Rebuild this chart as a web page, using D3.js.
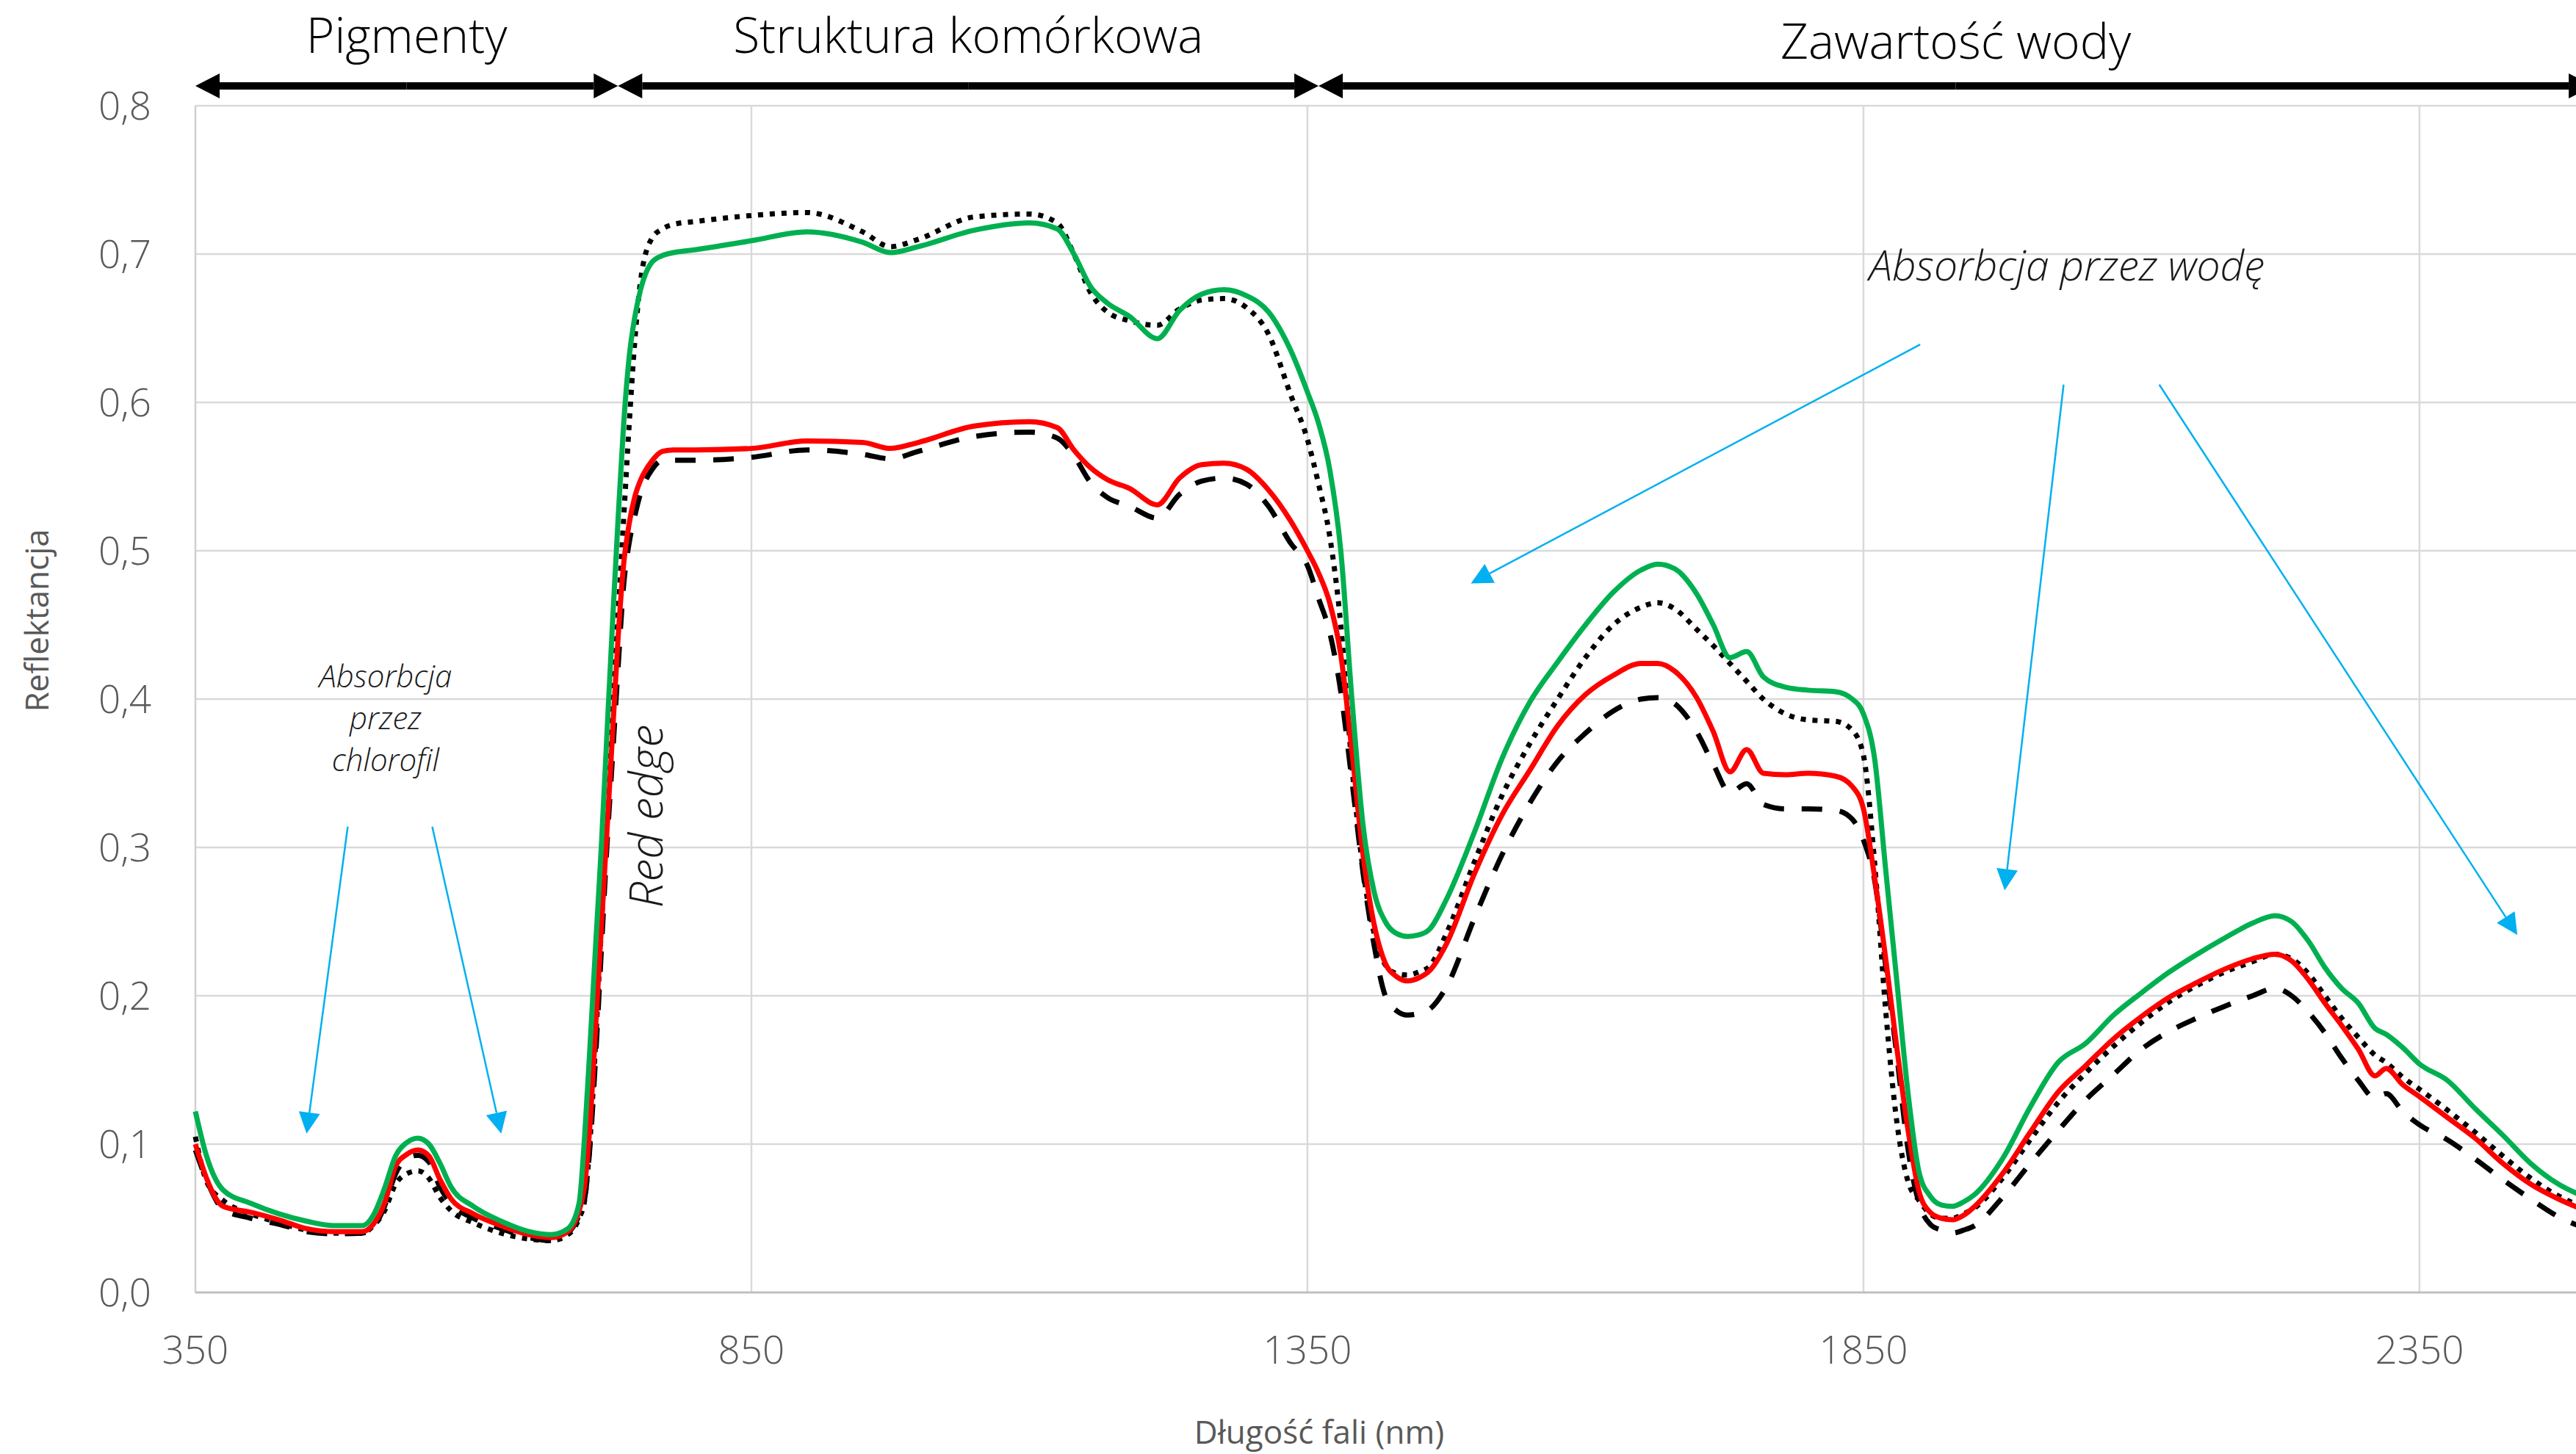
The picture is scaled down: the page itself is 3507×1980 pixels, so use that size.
<!DOCTYPE html>
<html>
<head>
<meta charset="utf-8">
<script src="https://cdn.jsdelivr.net/npm/d3@7"></script>
<style>
  body { margin: 0; background: #fff; }
  svg { display: block; }
  text { font-family: "Open Sans", "DejaVu Sans", sans-serif; }
</style>
</head>
<body>
<div id="chart"></div>
<script>
// wavelength samples (nm)
const wavelengths = [350,360,375,400,425,450,475,500,510,520,
  530,540,550,560,570,580,600,625,650,670,
  685,695,700,705,710,715,720,725,730,735,
  740,745,750,760,770,780,800,850,900,950,
  975,1000,1050,1100,1125,1140,1155,1170,1190,1215,
  1235,1255,1275,1295,1315,1335,1350,1360,1370,1380,
  1390,1400,1410,1420,1430,1440,1450,1460,1475,1500,
  1525,1550,1575,1600,1625,1650,1665,1680,1700,1715,
  1730,1745,1760,1780,1800,1825,1840,1850,1860,1870,
  1880,1890,1900,1910,1920,1930,1940,1950,1975,2000,
  2025,2050,2075,2100,2125,2150,2175,2200,2220,2235,
  2250,2265,2280,2295,2310,2320,2335,2350,2375,2400,
  2425,2450,2475,2500];

// reflectance, green solid
const greenSeries = [0.122,0.092,0.069,0.060,0.053,0.048,0.045,0.045,0.052,0.070,
  0.092,0.101,0.104,0.100,0.087,0.071,0.058,0.048,0.041,0.039,
  0.043,0.060,0.105,0.168,0.235,0.300,0.375,0.450,0.520,0.584,
  0.630,0.657,0.675,0.694,0.699,0.701,0.703,0.709,0.715,0.708,
  0.701,0.705,0.716,0.721,0.717,0.700,0.678,0.667,0.658,0.643,
  0.662,0.673,0.676,0.672,0.661,0.635,0.607,0.586,0.555,0.500,
  0.400,0.315,0.270,0.250,0.242,0.240,0.241,0.245,0.265,0.310,
  0.360,0.398,0.425,0.450,0.472,0.487,0.491,0.488,0.471,0.450,
  0.428,0.432,0.415,0.408,0.406,0.405,0.400,0.390,0.360,0.285,
  0.210,0.135,0.081,0.065,0.059,0.058,0.061,0.066,0.090,0.125,
  0.155,0.168,0.187,0.202,0.216,0.228,0.239,0.249,0.254,0.250,
  0.237,0.219,0.205,0.195,0.178,0.174,0.165,0.154,0.143,0.124,
  0.106,0.087,0.073,0.064];

// reflectance, black dotted
const dottedSeries = [0.105,0.075,0.062,0.053,0.047,0.042,0.040,0.040,0.045,0.055,
  0.073,0.080,0.082,0.077,0.064,0.055,0.047,0.040,0.036,0.035,
  0.039,0.050,0.062,0.104,0.170,0.245,0.320,0.390,0.455,0.520,
  0.584,0.640,0.680,0.710,0.717,0.720,0.722,0.726,0.728,0.715,
  0.705,0.710,0.725,0.727,0.721,0.700,0.674,0.661,0.655,0.652,
  0.663,0.669,0.670,0.664,0.646,0.605,0.575,0.545,0.510,0.450,
  0.355,0.285,0.242,0.221,0.215,0.214,0.216,0.220,0.242,0.290,
  0.335,0.370,0.400,0.428,0.450,0.462,0.465,0.461,0.447,0.436,
  0.424,0.412,0.400,0.390,0.386,0.385,0.379,0.362,0.290,0.190,
  0.115,0.075,0.062,0.053,0.050,0.050,0.053,0.057,0.077,0.103,
  0.128,0.148,0.166,0.182,0.196,0.207,0.216,0.223,0.228,0.225,
  0.215,0.200,0.185,0.172,0.160,0.155,0.145,0.137,0.123,0.108,
  0.092,0.077,0.065,0.057];

// reflectance, red solid
const redSeries = [0.100,0.077,0.058,0.054,0.049,0.043,0.041,0.041,0.046,0.060,
  0.085,0.093,0.096,0.092,0.076,0.063,0.053,0.045,0.039,0.037,
  0.041,0.055,0.072,0.115,0.180,0.245,0.310,0.375,0.440,0.490,
  0.518,0.536,0.547,0.560,0.567,0.568,0.568,0.569,0.574,0.573,
  0.569,0.573,0.584,0.587,0.583,0.568,0.556,0.548,0.542,0.531,
  0.549,0.558,0.559,0.555,0.541,0.520,0.500,0.485,0.465,0.430,
  0.365,0.295,0.248,0.222,0.213,0.210,0.212,0.217,0.235,0.282,
  0.322,0.352,0.382,0.403,0.416,0.424,0.424,0.419,0.401,0.378,
  0.351,0.366,0.350,0.349,0.350,0.348,0.341,0.326,0.280,0.225,
  0.165,0.110,0.068,0.054,0.050,0.049,0.052,0.058,0.080,0.108,
  0.135,0.153,0.171,0.186,0.199,0.209,0.218,0.225,0.228,0.2235,
  0.211,0.195,0.180,0.164,0.146,0.151,0.140,0.132,0.118,0.104,
  0.087,0.073,0.063,0.055];

// reflectance, black dashed
const dashedSeries = [0.096,0.076,0.056,0.050,0.046,0.041,0.0395,0.040,0.044,0.058,
  0.080,0.090,0.0925,0.088,0.071,0.060,0.050,0.043,0.037,0.035,
  0.040,0.052,0.063,0.100,0.160,0.230,0.300,0.360,0.420,0.476,
  0.505,0.523,0.538,0.554,0.561,0.561,0.561,0.563,0.568,0.565,
  0.562,0.567,0.577,0.580,0.576,0.564,0.546,0.536,0.530,0.522,
  0.538,0.547,0.549,0.545,0.530,0.505,0.490,0.468,0.445,0.405,
  0.345,0.283,0.234,0.200,0.190,0.187,0.188,0.191,0.206,0.252,
  0.295,0.330,0.358,0.377,0.392,0.400,0.401,0.397,0.378,0.356,
  0.337,0.343,0.329,0.326,0.326,0.325,0.319,0.305,0.278,0.220,
  0.160,0.097,0.060,0.046,0.042,0.040,0.042,0.045,0.064,0.087,
  0.109,0.130,0.147,0.164,0.176,0.185,0.193,0.200,0.205,0.200,
  0.189,0.175,0.158,0.143,0.131,0.134,0.122,0.113,0.103,0.090,
  0.076,0.063,0.051,0.043];

const xTicks = [350, 850, 1350, 1850, 2350];
const yTicks = [0, 0.1, 0.2, 0.3, 0.4, 0.5, 0.6, 0.7, 0.8];

// spectral regions shown above the plot
const sectionNames = ["Pigmenty", "Struktura komórkowa", "Zawartość wody"];
const sectionBounds = [350, 730, 1360, 2506];

// annotation arrows [fromX, fromY, toX, toY] in data units
const chlorophyllArrows = [[487, 0.314, 450, 0.107], [563, 0.314, 625, 0.107]];
const waterArrows = [[1901, 0.639, 1497, 0.478], [2030, 0.612, 1977, 0.271], [2116, 0.612, 2438, 0.241]];

// chart size
const width = 3507;
const height = 1980;

const svg = d3.select("#chart")
  .append("svg")
  .attr("width", width)
  .attr("height", height);

const x = d3.scaleLinear().domain([350, 2500]).range([266, 3521]);
const y = d3.scaleLinear().domain([0, 0.8]).range([1760, 144]);

const fmt = d3.formatLocale({decimal: ",", thousands: " ", grouping: [3], currency: ["", ""]}).format(".1f");

// gridlines
svg.append("g")
  .selectAll("line")
  .data(yTicks.filter(d => d > 0))
  .join("line")
  .attr("x1", x(350)).attr("x2", width)
  .attr("y1", d => y(d)).attr("y2", d => y(d))
  .attr("stroke", "#d9d9d9")
  .attr("stroke-width", 2.5);

svg.append("g")
  .selectAll("line")
  .data(xTicks.filter(d => d > 350))
  .join("line")
  .attr("x1", d => x(d)).attr("x2", d => x(d))
  .attr("y1", y(0)).attr("y2", y(0.8))
  .attr("stroke", "#d9d9d9")
  .attr("stroke-width", 2.5);

// axis lines
svg.append("line")
  .attr("x1", x(350)).attr("x2", x(350))
  .attr("y1", y(0)).attr("y2", y(0.8))
  .attr("stroke", "#d0d0d0")
  .attr("stroke-width", 2.5);

svg.append("line")
  .attr("x1", x(350)).attr("x2", width)
  .attr("y1", y(0)).attr("y2", y(0))
  .attr("stroke", "#bfbfbf")
  .attr("stroke-width", 3);

// tick labels
svg.append("g")
  .selectAll("text")
  .data(yTicks)
  .join("text")
  .attr("x", 206)
  .attr("y", d => y(d) + 19)
  .attr("text-anchor", "end")
  .attr("font-size", 53)
  .attr("font-weight", 300)
  .attr("fill", "#595959")
  .text(d => fmt(d));

svg.append("g")
  .selectAll("text")
  .data(xTicks)
  .join("text")
  .attr("x", d => x(d))
  .attr("y", 1857)
  .attr("text-anchor", "middle")
  .attr("font-size", 53)
  .attr("font-weight", 300)
  .attr("fill", "#595959")
  .text(d => d);

// axis titles
svg.append("text")
  .attr("transform", "translate(66," + y(0.453) + ") rotate(-90)")
  .attr("text-anchor", "middle")
  .attr("font-size", 44)
  .attr("fill", "#595959")
  .text("Reflektancja");

svg.append("text")
  .attr("x", 1796)
  .attr("y", 1966)
  .attr("text-anchor", "middle")
  .attr("font-size", 44)
  .attr("fill", "#595959")
  .text("Długość fali (nm)");

// series lines
const series = [
  {values: dottedSeries, color: "#000", dash: "7 9", width: 7},
  {values: dashedSeries, color: "#000", dash: "28 24", width: 7},
  {values: redSeries, color: "#ff0000", dash: null, width: 7},
  {values: greenSeries, color: "#00b050", dash: null, width: 7}
];

const line = d3.line()
  .x(d => x(d[0]))
  .y(d => y(d[1]))
  .curve(d3.curveMonotoneX);

svg.append("g")
  .selectAll("path")
  .data(series)
  .join("path")
  .attr("d", s => line(wavelengths.map((w, i) => [w, s.values[i]])))
  .attr("fill", "none")
  .attr("stroke", s => s.color)
  .attr("stroke-width", s => s.width)
  .attr("stroke-dasharray", s => s.dash)
  .attr("stroke-linejoin", "round");

// arrow helper: shaft plus triangular head at (x2,y2)
function arrow(g, x1, y1, x2, y2, color, w, headLen, headHalf) {
  const a = Math.atan2(y2 - y1, x2 - x1);
  const bx = x2 - headLen * Math.cos(a), by = y2 - headLen * Math.sin(a);
  g.append("line")
    .attr("x1", x1).attr("y1", y1).attr("x2", bx).attr("y2", by)
    .attr("stroke", color).attr("stroke-width", w);
  const px = -Math.sin(a) * headHalf, py = Math.cos(a) * headHalf;
  g.append("path")
    .attr("d", "M" + x2 + "," + y2 + "L" + (bx + px) + "," + (by + py) + "L" + (bx - px) + "," + (by - py) + "Z")
    .attr("fill", color);
}

// section double arrows
const arrowY = y(0.8) - 27;
const sectionG = svg.append("g");
const labelY = [72, 72, 80];
sectionNames.forEach((name, i) => {
  const a = x(sectionBounds[i]), b = x(sectionBounds[i + 1]);
  const mid = (a + b) / 2;
  arrow(sectionG, mid, arrowY, a, arrowY, "#000", 10, 33, 17);
  arrow(sectionG, mid, arrowY, b, arrowY, "#000", 10, 33, 17);
  sectionG.append("text")
    .attr("x", mid)
    .attr("y", labelY[i])
    .attr("text-anchor", "middle")
    .attr("font-size", 66)
    .attr("font-weight", 300)
    .attr("fill", "#000")
    .text(name);
});

// blue annotation arrows
const annG = svg.append("g");
chlorophyllArrows.concat(waterArrows).forEach(d => {
  arrow(annG, x(d[0]), y(d[1]), x(d[2]), y(d[3]), "#00b0f0", 2.5, 29, 14.5);
});

// annotation texts
const chloroLines = ["Absorbcja", "przez", "chlorofil"];
annG.append("g")
  .selectAll("text")
  .data(chloroLines)
  .join("text")
  .attr("x", x(521))
  .attr("y", (d, i) => y(0.408) + i * 57)
  .attr("text-anchor", "middle")
  .attr("font-size", 42)
  .attr("font-style", "italic")
  .attr("font-weight", 300)
  .attr("fill", "#1a1a1a")
  .text(d => d);

annG.append("text")
  .attr("transform", "translate(" + x(770) + "," + y(0.321) + ") rotate(-90)")
  .attr("text-anchor", "middle")
  .attr("font-size", 63)
  .attr("font-style", "italic")
  .attr("font-weight", 300)
  .attr("fill", "#1a1a1a")
  .text("Red edge");

annG.append("text")
  .attr("x", x(1855))
  .attr("y", y(0.682))
  .attr("font-size", 57)
  .attr("font-style", "italic")
  .attr("font-weight", 300)
  .attr("fill", "#1a1a1a")
  .text("Absorbcja przez wodę");
</script>
</body>
</html>
